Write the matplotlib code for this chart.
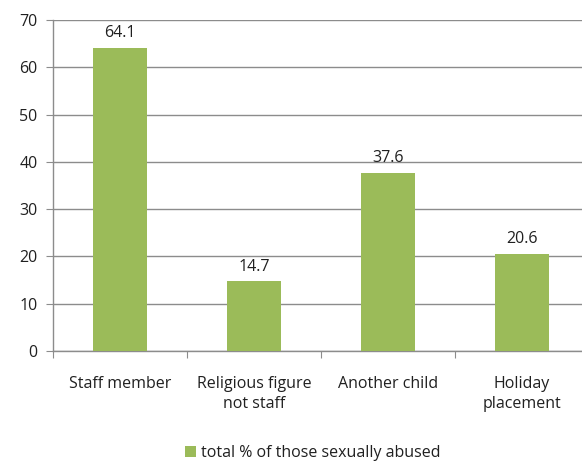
import matplotlib
matplotlib.use("Agg")
from matplotlib import pyplot as plt
from matplotlib.patches import Patch

categories = ["Staff member", "Religious figure\nnot staff", "Another child", "Holiday\nplacement"]
values = [64.1, 14.7, 37.6, 20.6]
series_name = "total % of those sexually abused"
y_ticks = [0, 10, 20, 30, 40, 50, 60, 70]

bar_color = "#9bbb59"
grid_color = "#8c8c8c"
text_color = "#202020"
fs = 11.5

plt.rcParams['font.family'] = ['Open Sans', 'DejaVu Sans']

fig = plt.figure(figsize=(5.82, 4.61), dpi=100)
ax = fig.add_axes([53 / 582, 1 - 351 / 461, 536 / 582, 331 / 461])

x = list(range(len(categories)))
ax.bar(x, values, width=0.4, color=bar_color, zorder=3)

for xi, v in zip(x, values):
    ax.annotate(f"{v}", (xi, v), xytext=(0, 5), textcoords="offset points",
                ha="center", va="bottom", fontsize=fs, color=text_color)

ax.set_xlim(-0.5, len(categories) - 0.5)
ax.set_ylim(0, 70)
ax.set_yticks(y_ticks)
ax.yaxis.grid(True, color=grid_color, linewidth=1, zorder=0)

# category boundaries get the tick marks, labels sit at the centers
ax.set_xticks([i - 0.5 for i in range(len(categories) + 1)])
ax.set_xticklabels([])
ax.set_xticks(x, minor=True)
ax.set_xticklabels(categories, minor=True, fontsize=fs, color=text_color, linespacing=1.35)
ax.tick_params(axis="x", which="minor", length=0, pad=18)
ax.tick_params(axis="x", which="major", length=5, color=grid_color, direction="out")
ax.tick_params(axis="y", length=5, color=grid_color, labelsize=fs, labelcolor=text_color, pad=6)

for side in ["top", "right"]:
    ax.spines[side].set_visible(False)
for side in ["left", "bottom"]:
    ax.spines[side].set_color(grid_color)
    ax.spines[side].set_linewidth(1)

handle = Patch(facecolor=bar_color, label=series_name)
fig.legend(handles=[handle], loc="center", bbox_to_anchor=(313 / 582, 1 - 453 / 461),
           frameon=False, fontsize=fs, handlelength=0.7, handleheight=0.7,
           handletextpad=0.3, labelcolor=text_color)

plt.savefig("out.png", dpi=100)
